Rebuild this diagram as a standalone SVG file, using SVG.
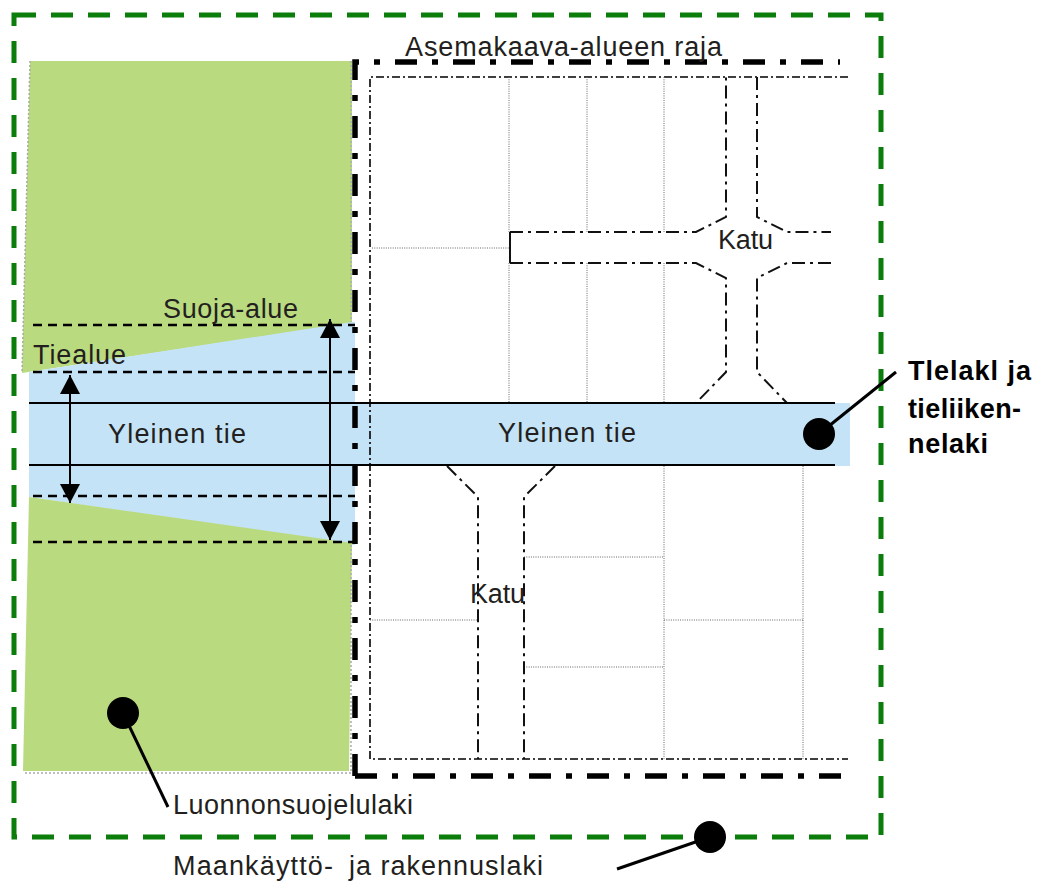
<svg xmlns="http://www.w3.org/2000/svg" width="1050" height="882" viewBox="0 0 1050 882">
<defs>
<style>
.lbl{font-family:"Liberation Sans",Arial,sans-serif;font-size:27px;fill:#231f20}
.bold{font-family:"Liberation Sans",Arial,sans-serif;font-size:27px;font-weight:bold;fill:#000}
.green{fill:#bada7f}
.blue{fill:#c5e3f7}
.gborder{fill:none;stroke:#0a7d0a;stroke-width:5;stroke-dasharray:22 15}
.thick{fill:none;stroke:#000;stroke-width:5.5;stroke-dasharray:22 15 6 15}
.thin{fill:none;stroke:#000;stroke-width:1.6;stroke-dasharray:8 3 2 3}
.street{fill:none;stroke:#111;stroke-width:2;stroke-dasharray:13 5 3 5}
.dot{fill:none;stroke:#666;stroke-width:1;stroke-dasharray:1 1.3}
.dash{fill:none;stroke:#000;stroke-width:2.5;stroke-dasharray:9 6}
.road{fill:none;stroke:#000;stroke-width:2}
.edge{fill:none;stroke:#aaa;stroke-width:1.5;stroke-dasharray:2 2}
.lead{fill:none;stroke:#000;stroke-width:3}
.arr{fill:none;stroke:#000;stroke-width:2;marker-start:url(#ah);marker-end:url(#ah)}
</style>
<marker id="ah" markerUnits="userSpaceOnUse" markerWidth="20" markerHeight="20" viewBox="0 0 19 19" refX="18" refY="9.5" orient="auto-start-reverse">
<path d="M0,0 L18,9.5 L0,19 z" fill="#000"/>
</marker>
</defs>

<rect width="1050" height="882" fill="#fff"/>

<g id="areas">
<polygon class="green" points="30,61 352,61 352,323 22,373"/>
<polygon class="blue" points="29,372 352,322 355,322 355,545 352,545 29,497"/>
<polygon class="green" points="29,497 352,543 349,771 23,771"/>
<rect class="blue" x="355" y="403" width="495" height="63"/>
<path class="edge" d="M30,61 L22,373 M351,61 V322 M351,545 V773 H23"/>
</g>

<g id="maankaytto-raja">
<rect class="gborder" x="14" y="15" width="867" height="822"/>
</g>

<g id="asemakaava-raja">
<path class="thick" d="M355,776 V62 H840"/>
<path class="thick" d="M355,776 H852"/>
<path class="thin" d="M848,77 H370 V759 H848"/>
</g>

<g id="plots">
<path class="dot" d="M509,77 V232 M509,263 V403 M587,77 V232 M587,263 V403 M664,77 V232 M664,263 V403 M372,248 H509"/>
<path class="dot" d="M664,466 V759 M803,466 V759 M524,557 H664 M370,620 H478 M664,620 H803 M524,667 H664"/>
</g>

<g id="katu-top">
<path class="street" d="M510,232 H696 L726,217 V77"/>
<path class="street" d="M757,77 V217 L787,232 H831"/>
<path class="street" d="M510,263 H696 L726,278 V372 L696,403"/>
<path class="street" d="M831,263 H787 L757,278 V372 L787,403"/>
<path d="M510,232 V263" stroke="#111" stroke-width="2" fill="none"/>
</g>

<g id="katu-bottom">
<path class="street" d="M447,466 L478,497 V759"/>
<path class="street" d="M555,466 L524,497 V759"/>
</g>

<g id="yleinen-tie">
<path class="road" d="M29,403 H835 M29,465 H835"/>
<path class="dash" d="M33,325 H355 M33,372 H355 M33,496 H355 M33,542 H355"/>
<path class="arr" d="M70,375 V503"/>
<path class="arr" d="M330,319 V540"/>
</g>

<g id="labels">
<text class="lbl" x="405" y="56" textLength="317">Asemakaava-alueen  raja</text>
<text class="lbl" x="163" y="318" textLength="135">Suoja-alue</text>
<text class="lbl" x="33" y="364" textLength="93">Tiealue</text>
<text class="lbl" x="108" y="443" textLength="138">Yleinen  tie</text>
<text class="lbl" x="498" y="442" textLength="138">Yleinen  tie</text>
<text class="lbl" x="718" y="249" textLength="55">Katu</text>
<text class="lbl" x="470" y="603" textLength="55">Katu</text>
<text class="lbl" x="173" y="814" textLength="240">Luonnonsuojelulaki</text>
<text class="lbl" x="173" y="875" textLength="160">Maankäyttö-</text>
<text class="lbl" x="349" y="875" textLength="194">ja rakennuslaki</text>
<text class="bold" x="908" y="380" textLength="123">Tlelakl  ja</text>
<text class="bold" x="908" y="418" textLength="113">tieliiken-</text>
<text class="bold" x="908" y="453" textLength="80">nelaki</text>
</g>

<g id="leaders">
<line class="lead" x1="819" y1="434" x2="896" y2="372"/>
<circle cx="819" cy="434" r="16" fill="#000"/>
<line class="lead" x1="123" y1="713" x2="168" y2="807"/>
<circle cx="123" cy="713" r="16" fill="#000"/>
<line class="lead" x1="710" y1="837" x2="617" y2="869"/>
<circle cx="710" cy="837" r="16" fill="#000"/>
</g>
</svg>
